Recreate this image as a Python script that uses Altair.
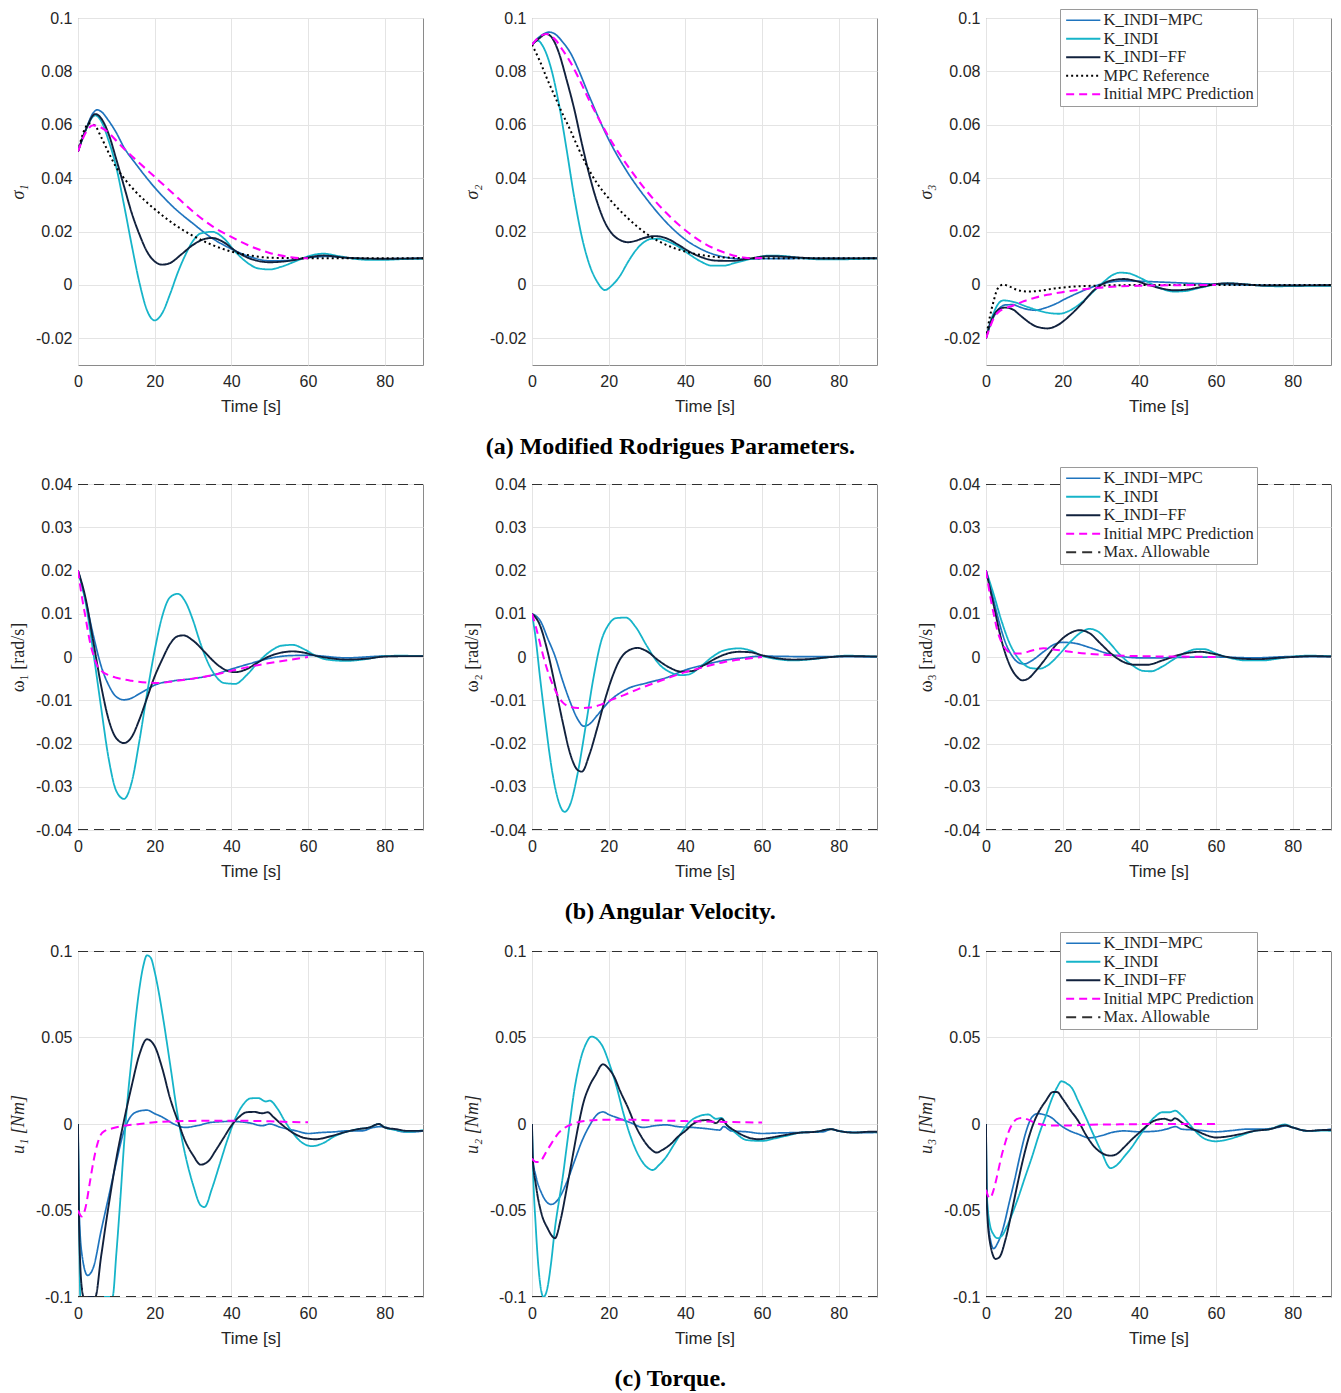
import altair as alt
import pandas as pd

# ---------------- series names ----------------
S_MPC = "K_INDI−MPC"
S_INDI = "K_INDI"
S_FF = "K_INDI−FF"
S_REF = "MPC Reference"
S_PRED = "Initial MPC Prediction"
S_MAX = "Max. Allowable"

ROW1_ORDER = [S_MPC, S_INDI, S_FF, S_REF, S_PRED]
ROW23_ORDER = [S_MPC, S_INDI, S_FF, S_PRED, S_MAX]

X_TICKS = [0, 20, 40, 60, 80]
SIG_TICKS = [-0.02, 0, 0.02, 0.04, 0.06, 0.08, 0.1]
OMG_TICKS = [-0.04, -0.03, -0.02, -0.01, 0, 0.01, 0.02, 0.03, 0.04]
U_TICKS = [-0.1, -0.05, 0, 0.05, 0.1]
OMG_LIMIT = 0.04
U_LIMIT = 0.1

# ---------------- sigma 1 ----------------
SIG1_MPC = [(0, 0.05), (2, 0.058), (4, 0.0645), (5, 0.0656), (6, 0.065), (8, 0.0615), (10, 0.057), (12, 0.0515),
            (15, 0.0455), (20, 0.0365), (25, 0.029), (30, 0.023), (35, 0.0175), (40, 0.0135), (45, 0.0105),
            (50, 0.0090), (55, 0.0092), (60, 0.0102), (65, 0.0107), (70, 0.0102), (75, 0.0098), (80, 0.0098), (90, 0.0100)]
SIG1_INDI = [(0, 0.05), (2, 0.058), (4.5, 0.0635), (6, 0.0615), (8, 0.054), (10, 0.044), (12, 0.030), (14, 0.015),
             (16, 0.001), (18, -0.0095), (20, -0.0133), (22, -0.0105), (24, -0.0035), (26, 0.0045), (28, 0.0112),
             (30, 0.0165), (32, 0.0193), (35, 0.0199), (38, 0.0175), (41, 0.0125), (44, 0.0085), (47, 0.0062),
             (50, 0.0058), (53, 0.0068), (57, 0.0090), (60, 0.0107), (64, 0.0117), (68, 0.0108), (72, 0.0098),
             (76, 0.0094), (80, 0.0094), (85, 0.0097), (90, 0.0098)]
SIG1_FF = [(0, 0.05), (2, 0.058), (4.5, 0.064), (6, 0.0625), (8, 0.0565), (10, 0.047), (12, 0.037), (14, 0.027),
           (16, 0.019), (18, 0.0125), (20, 0.0088), (22, 0.0076), (24, 0.0082), (27, 0.0115), (30, 0.0150),
           (33, 0.0172), (35, 0.0176), (38, 0.0160), (41, 0.0128), (45, 0.0098), (50, 0.0085), (55, 0.0090),
           (60, 0.0103), (64, 0.0110), (70, 0.0102), (80, 0.0098), (90, 0.0100)]
SIG1_REF = [(0, 0.05), (1.5, 0.0575), (3, 0.0605), (4.5, 0.0595), (6, 0.0555), (8, 0.0495), (10, 0.0440),
            (12, 0.0400), (15, 0.0350), (20, 0.0284), (25, 0.0228), (30, 0.0184), (35, 0.0150), (40, 0.0125),
            (45, 0.0110), (50, 0.0102), (60, 0.0100), (90, 0.0100)]
SIG1_PRED = [(0, 0.05), (2, 0.057), (4, 0.0598), (6, 0.059), (8, 0.057), (10, 0.054), (12, 0.051), (15, 0.047),
             (20, 0.0405), (25, 0.034), (30, 0.0275), (35, 0.022), (40, 0.018), (45, 0.0145), (50, 0.012),
             (55, 0.0105), (58, 0.0100), (60, 0.0100)]

# ---------------- sigma 2 ----------------
SIG2_MPC = [(0, 0.09), (2, 0.093), (4.5, 0.0947), (6, 0.094), (8, 0.091), (10, 0.087), (12, 0.081), (15, 0.0705),
            (20, 0.0545), (25, 0.042), (30, 0.032), (35, 0.0235), (40, 0.017), (45, 0.0128), (50, 0.0105),
            (55, 0.0097), (60, 0.0098), (90, 0.0100)]
SIG2_INDI = [(0, 0.09), (1.5, 0.0915), (3, 0.089), (5, 0.081), (7, 0.068), (9, 0.051), (11, 0.033), (13, 0.018),
             (15, 0.0075), (17, 0.0012), (19, -0.0019), (21, 0.0), (23, 0.0035), (25, 0.0085), (27, 0.0128),
             (29, 0.0158), (31, 0.0172), (33, 0.0173), (35, 0.0165), (38, 0.0145), (41, 0.0115), (44, 0.0088),
             (47, 0.0072), (50, 0.0072), (53, 0.0083), (57, 0.0097), (62, 0.0110), (66, 0.0108), (70, 0.0101),
             (75, 0.0096), (80, 0.0096), (90, 0.0099)]
SIG2_FF = [(0, 0.09), (2, 0.0925), (3.7, 0.094), (5, 0.093), (7, 0.087), (9, 0.077), (11, 0.066), (13, 0.053),
           (15, 0.041), (17, 0.031), (19, 0.0235), (21, 0.019), (23, 0.0168), (25, 0.016), (27, 0.0165),
           (29, 0.0175), (32, 0.0183), (35, 0.0175), (38, 0.0152), (41, 0.0125), (44, 0.0105), (48, 0.0091),
           (52, 0.0090), (56, 0.0097), (62, 0.0108), (68, 0.0104), (75, 0.0099), (90, 0.0100)]
SIG2_REF = [(0, 0.09), (2, 0.084), (4, 0.077), (6, 0.0705), (8, 0.064), (10, 0.058), (12, 0.0515), (14, 0.0455),
            (17, 0.038), (20, 0.0325), (25, 0.025), (30, 0.019), (35, 0.015), (40, 0.0125), (45, 0.011),
            (50, 0.0103), (60, 0.0100), (90, 0.0100)]
SIG2_PRED = [(0, 0.09), (2, 0.093), (3.7, 0.094), (6, 0.092), (8, 0.088), (10, 0.0835), (12, 0.078), (15, 0.069),
             (20, 0.0555), (25, 0.0445), (30, 0.035), (35, 0.027), (40, 0.0205), (45, 0.0155), (50, 0.0122),
             (55, 0.0103), (57, 0.0100), (60, 0.0101)]

# ---------------- sigma 3 ----------------
SIG3_MPC = [(0, -0.02), (1, -0.0155), (2, -0.012), (3.5, -0.0088), (5, -0.0075), (7, -0.0074), (9, -0.0084),
            (11, -0.0092), (13, -0.0095), (15, -0.0088), (18, -0.0072), (21, -0.005), (24, -0.003), (27, -0.0012),
            (30, 0.0003), (33, 0.0012), (36, 0.0015), (40, 0.0014), (45, 0.0011), (50, 0.0008), (55, 0.0005),
            (60, 0.0003), (70, -0.0001), (80, -0.0002), (90, -0.0002)]
SIG3_INDI = [(0, -0.02), (1, -0.0145), (2, -0.0105), (3, -0.0075), (4.5, -0.0058), (6, -0.006), (8, -0.0067),
             (10, -0.0078), (12, -0.0088), (14, -0.0097), (16, -0.0104), (19, -0.0108), (22, -0.0095),
             (25, -0.0065), (28, -0.0025), (31, 0.0015), (33, 0.0037), (35, 0.0046), (37, 0.0044), (40, 0.0028),
             (43, 0.0005), (46, -0.0015), (49, -0.0025), (52, -0.0023), (56, -0.001), (60, 0.0002), (63, 0.0006),
             (67, 0.0003), (72, -0.0003), (76, -0.0005), (82, -0.0004), (90, -0.0003)]
SIG3_FF = [(0, -0.02), (1, -0.015), (2, -0.0115), (3.5, -0.009), (5, -0.0085), (7, -0.0092), (9, -0.0115),
           (11, -0.0138), (13, -0.0155), (16, -0.0163), (19, -0.0148), (22, -0.0113), (25, -0.007), (28, -0.0022),
           (31, 0.0008), (34, 0.002), (36, 0.0022), (39, 0.0015), (42, 0.0002), (46, -0.0014), (49, -0.002),
           (52, -0.0018), (56, -0.0008), (60, 0.0003), (63, 0.0006), (67, 0.0003), (72, -0.0002), (80, -0.0002),
           (90, -0.0001)]
SIG3_REF = [(0, -0.02), (1, -0.012), (2, -0.006), (3, -0.0015), (4.5, 0.0001), (6, -0.0005), (8, -0.0018),
            (11, -0.0025), (14, -0.0022), (18, -0.0013), (22, -0.0007), (28, -0.0003), (35, -0.0001), (50, 0.0),
            (90, 0.0)]
SIG3_PRED = [(0, -0.02), (1, -0.016), (2, -0.0125), (3.5, -0.0098), (5, -0.0088), (7, -0.0078), (10, -0.006),
             (13, -0.0047), (16, -0.0037), (20, -0.0027), (25, -0.0017), (30, -0.001), (35, -0.0005), (40, -0.0003),
             (50, -0.0001), (60, 0.0)]

# ---------------- omega 1 ----------------
OMG1_MPC = [(0, 0.02), (2, 0.013), (4, 0.005), (6, -0.002), (8, -0.0065), (10, -0.0092), (12, -0.0099),
            (14, -0.0095), (16, -0.0085), (18, -0.0075), (20, -0.0065), (25, -0.0055), (30, -0.005), (35, -0.0042),
            (40, -0.0028), (45, -0.0015), (50, -0.0003), (55, 0.0003), (60, 0.0004), (70, -0.0002), (80, 0.0002),
            (90, 0.0002)]
OMG1_INDI = [(0, 0.02), (2, 0.0125), (4, 0.001), (6, -0.0115), (8, -0.0235), (10, -0.031), (12, -0.0328),
             (14, -0.029), (16, -0.0195), (18, -0.0085), (20, 0.0015), (22, 0.0095), (24, 0.0138), (26, 0.0146),
             (28, 0.0128), (30, 0.0085), (32, 0.003), (34, -0.0015), (36, -0.0045), (38, -0.006), (41, -0.0062),
             (44, -0.0042), (47, -0.0012), (50, 0.0012), (53, 0.0026), (56, 0.0028), (59, 0.0018), (62, 0.0003),
             (65, -0.0006), (70, -0.0009), (75, -0.0005), (80, 0.0002), (84, 0.0003), (90, 0.0002)]
OMG1_FF = [(0, 0.02), (2, 0.0135), (4, 0.0035), (6, -0.0065), (8, -0.0145), (10, -0.0188), (12, -0.0199),
           (14, -0.0185), (16, -0.0145), (18, -0.0095), (20, -0.0045), (22, -0.0005), (24, 0.003), (26, 0.0048),
           (27.5, 0.005), (30, 0.0038), (33, 0.0012), (36, -0.0015), (39, -0.0032), (41, -0.0035), (44, -0.0028),
           (47, -0.0012), (50, 0.0002), (53, 0.001), (56, 0.0013), (59, 0.001), (62, 0.0003), (66, -0.0003),
           (70, -0.0006), (75, -0.0004), (80, 0.0001), (85, 0.0002), (90, 0.0002)]
OMG1_PRED = [(0, 0.02), (1, 0.014), (2, 0.009), (3, 0.004), (4, 0.0005), (5, -0.002), (6.5, -0.0035), (8, -0.0042),
             (10, -0.0048), (14, -0.0055), (18, -0.0059), (21, -0.006), (25, -0.0056), (30, -0.005), (35, -0.0042),
             (40, -0.0032), (45, -0.0022), (50, -0.0014), (55, -0.0007), (60, 0.0)]

# ---------------- omega 2 ----------------
OMG2_MPC = [(0, 0.01), (2.4, 0.008), (4, 0.0045), (6, 0.0002), (8, -0.0055), (10, -0.0105), (12, -0.0145),
            (13.5, -0.016), (15, -0.0155), (17, -0.0135), (20, -0.0104), (25, -0.0073), (30, -0.006),
            (35, -0.0048), (40, -0.003), (45, -0.0018), (50, -0.0008), (55, -0.0002), (60, 0.0002), (70, 0.0001),
            (80, 0.0001), (90, 0.0)]
OMG2_INDI = [(0, 0.01), (1, 0.004), (2, -0.004), (3.5, -0.015), (5, -0.025), (6.5, -0.032), (8.5, -0.0358),
             (10, -0.034), (12, -0.0265), (14, -0.016), (16, -0.005), (18, 0.0035), (20, 0.0075), (22, 0.009),
             (24.5, 0.0091), (27, 0.007), (30, 0.0025), (33, -0.0015), (36, -0.0035), (39, -0.0042), (41, -0.004),
             (44, -0.0022), (47, 0.0), (50, 0.0015), (54, 0.002), (57, 0.0015), (60, 0.0003), (64, -0.0005),
             (68, -0.0008), (72, -0.0006), (78, 0.0), (82, 0.0003), (90, 0.0001)]
OMG2_FF = [(0, 0.01), (2, 0.0075), (4, 0.0015), (6, -0.0065), (8, -0.015), (10, -0.0225), (12, -0.0262),
           (13, -0.0265), (15, -0.0225), (17, -0.0165), (19, -0.01), (21, -0.0045), (23, -0.0005), (25, 0.0014),
           (27.5, 0.0021), (30, 0.0013), (33, -0.0008), (36, -0.0025), (39, -0.0034), (42, -0.0032), (45, -0.0018),
           (48, -0.0003), (51, 0.0008), (54, 0.0012), (57, 0.0011), (60, 0.0004), (64, -0.0003), (68, -0.0006),
           (72, -0.0005), (78, 0.0), (82, 0.0002), (90, 0.0001)]
OMG2_PRED = [(0, 0.01), (1, 0.007), (2, 0.0035), (3, 0.0), (4, -0.003), (5, -0.0055), (6.5, -0.0085), (8, -0.0105),
             (10, -0.0115), (12, -0.0118), (15, -0.0117), (18, -0.011), (21, -0.0098), (24, -0.0088), (28, -0.0073),
             (32, -0.006), (36, -0.0047), (40, -0.0035), (45, -0.0023), (50, -0.0012), (55, -0.0005), (60, 0.0)]

# ---------------- omega 3 ----------------
OMG3_MPC = [(0, 0.02), (1.5, 0.015), (3, 0.0095), (5, 0.0035), (7, 0.0), (9, -0.0015), (10, -0.0016),
            (12, -0.0008), (15, 0.0012), (18, 0.003), (20, 0.0034), (23, 0.0032), (27, 0.0022), (31, 0.001),
            (35, 0.0002), (40, -0.0002), (45, -0.0002), (50, -0.0001), (60, 0.0), (70, -0.0002), (80, 0.0001),
            (90, 0.0001)]
OMG3_INDI = [(0, 0.02), (2, 0.0145), (4, 0.0085), (6, 0.0035), (8, 0.0002), (10, -0.0018), (12, -0.0026),
             (14, -0.0027), (16, -0.002), (19, 0.0005), (22, 0.0035), (25, 0.0058), (27, 0.0065), (29, 0.006),
             (32, 0.0035), (35, 0.0005), (38, -0.0018), (41, -0.0032), (43, -0.0033), (46, -0.0022), (49, -0.0005),
             (52, 0.001), (55, 0.0018), (57, 0.0018), (60, 0.0008), (64, -0.0003), (68, -0.0008), (72, -0.0008),
             (76, -0.0004), (80, 0.0001), (84, 0.0003), (90, 0.0002)]
OMG3_FF = [(0, 0.02), (2, 0.012), (4, 0.004), (6, -0.0015), (8, -0.0045), (9.5, -0.0054), (11, -0.005),
           (13, -0.0032), (15, -0.001), (18, 0.0025), (21, 0.005), (24.5, 0.0062), (27, 0.0055), (30, 0.003),
           (33, 0.0005), (36, -0.0012), (39, -0.0018), (42, -0.0018), (46, -0.0008), (50, 0.0004), (53, 0.001),
           (56, 0.0012), (59, 0.0008), (63, 0.0), (67, -0.0004), (71, -0.0005), (76, -0.0002), (80, 0.0),
           (85, 0.0002), (90, 0.0001)]
OMG3_PRED = [(0, 0.02), (1, 0.0145), (2, 0.01), (3, 0.006), (4, 0.0035), (5.5, 0.0015), (7, 0.0008), (9, 0.0008),
             (12, 0.0015), (15, 0.002), (18, 0.0017), (22, 0.0012), (27, 0.0007), (33, 0.0004), (40, 0.0002),
             (50, 0.0001), (60, 0.0)]

# ---------------- torque 1 ----------------
U1_MPC = [(0, 0.0), (0.3, -0.05), (1, -0.075), (2.5, -0.0875), (4, -0.083), (6, -0.062), (8, -0.042), (10, -0.022),
          (12, -0.004), (14, 0.005), (16, 0.0075), (18, 0.008), (20, 0.006), (22, 0.004), (25, 0.0), (28, -0.002),
          (31, -0.001), (35, 0.001), (40, 0.0015), (45, 0.0005), (48, -0.001), (50, 0.0), (53, -0.002),
          (57, -0.004), (60, -0.0055), (63, -0.005), (67, -0.0045), (70, -0.004), (74, -0.004), (77, -0.002),
          (79, -0.0015), (82, -0.003), (85, -0.0045), (88, -0.0045), (90, -0.004)]
U1_INDI = [(0, 0.0), (0.3, -0.06), (0.6, -0.1), (9, -0.1), (10, -0.075), (11, -0.045), (12, -0.012), (13, 0.016),
           (14, 0.038), (15, 0.06), (16, 0.078), (17, 0.091), (18, 0.0975), (19, 0.096), (20, 0.088), (21, 0.077),
           (22, 0.064), (24, 0.035), (26, 0.005), (28, -0.018), (30, -0.035), (32, -0.047), (33, -0.048),
           (35, -0.037), (37, -0.023), (39, -0.009), (41, 0.003), (43, 0.011), (45, 0.0148), (47, 0.015),
           (49, 0.013), (50, 0.0135), (52, 0.009), (54, 0.0015), (56, -0.005), (58, -0.01), (61, -0.0128),
           (64, -0.011), (67, -0.007), (70, -0.0045), (73, -0.003), (76, -0.002), (78.5, 0.0), (80, -0.002),
           (83, -0.0035), (86, -0.0045), (90, -0.0035)]
U1_FF = [(0, 0.0), (0.3, -0.06), (1, -0.095), (1.5, -0.1), (4.5, -0.1), (6, -0.077), (8, -0.047), (10, -0.02),
         (12, 0.002), (14, 0.022), (16, 0.04), (18, 0.049), (20, 0.045), (22, 0.032), (24, 0.015), (26, 0.002),
         (28, -0.01), (30, -0.018), (32, -0.0235), (34, -0.0215), (36, -0.015), (38, -0.008), (40, -0.001),
         (42, 0.004), (44, 0.0068), (46, 0.007), (48, 0.0062), (49.5, 0.0068), (51, 0.004), (53, 0.0),
         (56, -0.005), (59, -0.008), (62, -0.0088), (66, -0.007), (70, -0.0045), (73, -0.003), (76, -0.002),
         (78.5, 0.0), (80, -0.002), (83, -0.003), (86, -0.004), (90, -0.004)]
U1_PRED = [(0, -0.05), (1, -0.0535), (2, -0.048), (3, -0.035), (4, -0.022), (5, -0.012), (6, -0.006), (7, -0.004),
           (9, -0.0025), (12, -0.001), (16, 0.0), (20, 0.001), (25, 0.0015), (30, 0.0018), (40, 0.0019),
           (50, 0.0016), (55, 0.0012), (60, 0.001)]

# ---------------- torque 2 ----------------
U2_MPC = [(0, 0.0), (0.2, -0.02), (1, -0.03), (2.5, -0.04), (5, -0.0465), (7, -0.043), (9, -0.034), (11, -0.022),
          (13, -0.01), (15, -0.001), (17, 0.0055), (18.5, 0.007), (20, 0.0055), (23, 0.003), (26, 0.0005),
          (29, -0.002), (32, -0.001), (35, -0.0005), (38, -0.0015), (42, -0.002), (46, -0.0028), (49, -0.0035),
          (50, -0.0015), (52, -0.004), (56, -0.0045), (60, -0.0055), (64, -0.0052), (68, -0.005), (72, -0.0048),
          (76, -0.0045), (78, -0.003), (80, -0.004), (84, -0.0048), (88, -0.005), (90, -0.0048)]
U2_INDI = [(0, 0.0), (0.2, -0.02), (1, -0.06), (2, -0.09), (3, -0.1), (4, -0.095), (5, -0.08), (6, -0.06),
           (7, -0.045), (8, -0.031), (9, -0.014), (10, 0.003), (11, 0.019), (12, 0.031), (13, 0.04), (14, 0.046),
           (15.5, 0.0505), (17, 0.049), (18.5, 0.0445), (20, 0.036), (22, 0.022), (24, 0.005), (26, -0.009),
           (28, -0.019), (30, -0.025), (31.5, -0.0266), (33, -0.024), (35, -0.019), (37, -0.012), (39, -0.005),
           (41, 0.001), (43, 0.004), (46, 0.0055), (48, 0.003), (49.4, 0.0035), (51, -0.001), (53, -0.005),
           (56, -0.0093), (60, -0.0098), (63, -0.0085), (66, -0.007), (70, -0.005), (74, -0.0045), (78, -0.003),
           (80, -0.004), (84, -0.005), (88, -0.0045), (90, -0.0048)]
U2_FF = [(0, 0.0), (0.2, -0.02), (1, -0.035), (2.5, -0.052), (4, -0.06), (6, -0.066), (7.5, -0.055), (9, -0.038),
         (10.5, -0.02), (12, -0.002), (13.5, 0.013), (15, 0.022), (16.5, 0.028), (18.5, 0.0345), (20, 0.032),
         (21.5, 0.027), (23, 0.019), (25, 0.0096), (27, -0.001), (29, -0.009), (31, -0.0145), (32.5, -0.0165),
         (34, -0.015), (36, -0.012), (38, -0.0075), (40, -0.004), (42, 0.0), (44, 0.002), (46, 0.0023),
         (48, 0.0005), (49.4, 0.0029), (51, -0.001), (53, -0.004), (56, -0.0075), (59, -0.0088), (62, -0.008),
         (65, -0.0068), (70, -0.005), (74, -0.0045), (78, -0.003), (80, -0.004), (84, -0.005), (88, -0.0045),
         (90, -0.0045)]
U2_PRED = [(0, -0.02), (1, -0.022), (2, -0.022), (3, -0.019), (4, -0.015), (5, -0.0115), (6, -0.008), (7, -0.005),
           (8, -0.003), (10, -0.0005), (12, 0.001), (15, 0.002), (20, 0.0025), (25, 0.0025), (30, 0.0022),
           (40, 0.0017), (50, 0.0012), (60, 0.0008)]

# ---------------- torque 3 ----------------
U3_MPC = [(0, 0.0), (0.2, -0.04), (1, -0.065), (2, -0.072), (3, -0.069), (4.5, -0.06), (6, -0.046), (7.5, -0.032),
          (9, -0.017), (10.5, -0.004), (12, 0.004), (13.5, 0.006), (15, 0.0055), (17, 0.0038), (19, 0.0),
          (21, -0.003), (24, -0.0058), (27, -0.008), (30, -0.0068), (33, -0.0048), (36, -0.004), (40, -0.0045),
          (44, -0.0042), (47, -0.003), (49.5, -0.0015), (51, -0.003), (55, -0.0035), (60, -0.0045), (64, -0.0038),
          (68, -0.003), (72, -0.003), (76, -0.002), (78.5, -0.001), (80, -0.002), (84, -0.004), (88, -0.0035),
          (90, -0.003)]
U3_INDI = [(0, 0.0), (0.2, -0.04), (1, -0.058), (2, -0.064), (3, -0.066), (4, -0.065), (5.5, -0.059), (7, -0.051),
           (8.5, -0.042), (10, -0.032), (12, -0.019), (14, -0.005), (15.5, 0.004), (17, 0.0135), (18.5, 0.021),
           (19.7, 0.0247), (21, 0.0235), (22.5, 0.0205), (24, 0.0135), (26, 0.004), (28, -0.006), (30, -0.0155),
           (32.5, -0.0255), (34, -0.024), (36, -0.019), (38, -0.0135), (40, -0.007), (42, -0.001), (44, 0.004),
           (46, 0.0068), (48, 0.0068), (49.3, 0.0077), (51, 0.005), (53, 0.0), (55, -0.005), (57, -0.0085),
           (60, -0.01), (62, -0.0095), (66, -0.007), (70, -0.004), (74, -0.003), (78, -0.0003), (80, -0.002),
           (84, -0.004), (88, -0.0038), (90, -0.004)]
U3_FF = [(0, 0.0), (0.2, -0.045), (1, -0.068), (2.5, -0.078), (3.5, -0.077), (5, -0.0675), (6.5, -0.053),
         (8, -0.037), (9.5, -0.022), (11, -0.009), (12.5, 0.001), (14, 0.008), (15.5, 0.013), (17.5, 0.0185),
         (18.5, 0.0185), (20, 0.0145), (22, 0.008), (24, 0.002), (26, -0.006), (28, -0.0125), (30, -0.0165),
         (32.5, -0.0183), (34, -0.0175), (36, -0.0135), (38, -0.009), (40, -0.005), (42, -0.001), (44, 0.002),
         (46.5, 0.003), (48.3, 0.002), (49.3, 0.0033), (51, 0.001), (53, -0.002), (55, -0.004), (57, -0.006),
         (60, -0.0078), (63, -0.0072), (66, -0.006), (70, -0.004), (74, -0.003), (78, -0.0008), (80, -0.002),
         (84, -0.004), (88, -0.0035), (90, -0.0035)]
U3_PRED = [(0, -0.038), (1, -0.043), (2, -0.038), (3, -0.029), (4, -0.019), (5, -0.011), (6, -0.004), (7, 0.0005),
           (8, 0.0028), (9.5, 0.0035), (11, 0.0025), (13, 0.0005), (15, -0.0005), (18, -0.0009), (22, -0.0008),
           (27, -0.0004), (35, -0.0002), (45, 0.0), (60, 0.0)]

# ---------------- styles ----------------
COLORS = {S_MPC: "#1f74be", S_INDI: "#16b4c9", S_FF: "#11213d", S_REF: "#000000", S_PRED: "#ff00ff",
          S_MAX: "#303030"}
DASHES = {S_MPC: [1, 0], S_INDI: [1, 0], S_FF: [1, 0], S_REF: [2, 3], S_PRED: [8, 5], S_MAX: [10, 6]}
WIDTHS = {S_MPC: 1.7, S_INDI: 2.1, S_FF: 2.1, S_REF: 2.2, S_PRED: 2.2, S_MAX: 2.6}

LABEL_EXPR = ("datum.value < 0 ? '-' + format(-datum.value, '~g') : format(datum.value, '~g')")


def make_legend(lx, ly):
    return alt.Legend(orient="none", legendX=lx, legendY=ly, title=None,
                      symbolType="M-3,0H3", symbolSize=130, symbolStrokeWidth=2,
                      symbolOffset=12, labelOffset=12,
                      labelFont="Liberation Serif", labelFontSize=16.5, labelColor="#262626",
                      rowPadding=1.5, padding=3, strokeColor="#9a9a9a", fillColor="#ffffff",
                      cornerRadius=0)


def panel(series, order, ydom, yticks, ytitle, italic, w, h, legend=None):
    rows = []
    for name in order:
        for part, pts in series[name]:
            for t, v in pts:
                rows.append({"t": t, "v": v, "series": name, "part": part})
    df = pd.DataFrame(rows)
    leg = legend if legend is not None else None
    color = alt.Color("series:N", sort=order,
                      scale=alt.Scale(domain=order, range=[COLORS[s] for s in order]),
                      legend=leg)
    dash = alt.StrokeDash("series:N", sort=order,
                          scale=alt.Scale(domain=order, range=[DASHES[s] for s in order]),
                          legend=leg)
    sw = alt.StrokeWidth("series:N",
                         scale=alt.Scale(domain=order, range=[WIDTHS[s] for s in order]),
                         legend=None)
    return alt.Chart(df).mark_line(interpolate="monotone", clip=True).encode(
        x=alt.X("t:Q", scale=alt.Scale(domain=[0, 90], nice=False, zero=False),
                axis=alt.Axis(values=X_TICKS, title="Time [s]", format="d", labelFlush=False,
                              labelPadding=8, titlePadding=9)),
        y=alt.Y("v:Q", scale=alt.Scale(domain=ydom, nice=False, zero=False),
                axis=alt.Axis(values=yticks, labelExpr=LABEL_EXPR, title=ytitle, labelFlush=False,
                              titleFont="Liberation Serif", titleFontSize=18,
                              titleFontStyle="italic" if italic else "normal",
                              labelPadding=6, titlePadding=8)),
        color=color, strokeDash=dash, strokeWidth=sw, detail="part:N",
    ).properties(width=w, height=h)


def with_limit(d, lim):
    d = dict(d)
    d[S_MAX] = [("hi", [(0, lim), (90, lim)]), ("lo", [(0, -lim), (90, -lim)])]
    return d


def one(pts):
    return [("a", pts)]


CAPTION = dict(orient="bottom", anchor="middle", font="Liberation Serif", fontSize=24,
               fontWeight="bold", color="#000000", offset=20)

W, H1, H = 345, 347, 346

# Row 1
sig_dom = [-0.03, 0.1]
p11 = panel({S_MPC: one(SIG1_MPC), S_INDI: one(SIG1_INDI), S_FF: one(SIG1_FF), S_REF: one(SIG1_REF),
             S_PRED: one(SIG1_PRED)}, ROW1_ORDER, sig_dom, SIG_TICKS, "σ₁", True, W, H1)
p12 = panel({S_MPC: one(SIG2_MPC), S_INDI: one(SIG2_INDI), S_FF: one(SIG2_FF), S_REF: one(SIG2_REF),
             S_PRED: one(SIG2_PRED)}, ROW1_ORDER, sig_dom, SIG_TICKS, "σ₂", True, W, H1)
p13 = panel({S_MPC: one(SIG3_MPC), S_INDI: one(SIG3_INDI), S_FF: one(SIG3_FF), S_REF: one(SIG3_REF),
             S_PRED: one(SIG3_PRED)}, ROW1_ORDER, sig_dom, SIG_TICKS, "σ₃", True, W, H1,
            legend=make_legend(74, -9))

# Row 2
omg_dom = [-OMG_LIMIT, OMG_LIMIT]
p21 = panel(with_limit({S_MPC: one(OMG1_MPC), S_INDI: one(OMG1_INDI), S_FF: one(OMG1_FF),
                        S_PRED: one(OMG1_PRED)}, OMG_LIMIT), ROW23_ORDER, omg_dom, OMG_TICKS,
            "ω₁ [rad/s]", False, W, H)
p22 = panel(with_limit({S_MPC: one(OMG2_MPC), S_INDI: one(OMG2_INDI), S_FF: one(OMG2_FF),
                        S_PRED: one(OMG2_PRED)}, OMG_LIMIT), ROW23_ORDER, omg_dom, OMG_TICKS,
            "ω₂ [rad/s]", False, W, H)
p23 = panel(with_limit({S_MPC: one(OMG3_MPC), S_INDI: one(OMG3_INDI), S_FF: one(OMG3_FF),
                        S_PRED: one(OMG3_PRED)}, OMG_LIMIT), ROW23_ORDER, omg_dom, OMG_TICKS,
            "ω₃ [rad/s]", False, W, H, legend=make_legend(74, -17))

# Row 3
u_dom = [-U_LIMIT, U_LIMIT]
p31 = panel(with_limit({S_MPC: one(U1_MPC), S_INDI: one(U1_INDI), S_FF: one(U1_FF),
                        S_PRED: one(U1_PRED)}, U_LIMIT), ROW23_ORDER, u_dom, U_TICKS,
            "u₁ [Nm]", True, W, H)
p32 = panel(with_limit({S_MPC: one(U2_MPC), S_INDI: one(U2_INDI), S_FF: one(U2_FF),
                        S_PRED: one(U2_PRED)}, U_LIMIT), ROW23_ORDER, u_dom, U_TICKS,
            "u₂ [Nm]", True, W, H)
p33 = panel(with_limit({S_MPC: one(U3_MPC), S_INDI: one(U3_INDI), S_FF: one(U3_FF),
                        S_PRED: one(U3_PRED)}, U_LIMIT), ROW23_ORDER, u_dom, U_TICKS,
            "u₃ [Nm]", True, W, H, legend=make_legend(74, -19))


def row(a, b, c, caption, spacing):
    return alt.hconcat(a, b, c, spacing=spacing, bounds="flush",
                       title=alt.TitleParams(caption, **CAPTION)).resolve_scale(
        color="independent", strokeDash="independent", strokeWidth="independent",
        x="independent", y="independent")


r1 = row(p11, p12, p13, "(a) Modified Rodrigues Parameters.", 109)
r2 = row(p21, p22, p23, "(b) Angular Velocity.", 109)
r3 = row(p31, p32, p33, "(c) Torque.", 109)

chart = alt.vconcat(r1, r2, r3, spacing=7, bounds="full").resolve_scale(
    color="independent", strokeDash="independent", strokeWidth="independent"
).properties(
    padding={"left": 1, "top": 0, "right": 0, "bottom": 2}
).configure_view(
    stroke="#8a8a8a", strokeWidth=1
).configure_axis(
    labelFont="Liberation Sans", labelFontSize=16, labelColor="#262626",
    titleFont="Liberation Sans", titleFontSize=17, titleFontWeight="normal", titleColor="#262626",
    gridColor="#e4e4e4", gridWidth=1, domain=False, ticks=False
)

chart.save("out.html", embed_options={"renderer": "svg", "actions": False})
